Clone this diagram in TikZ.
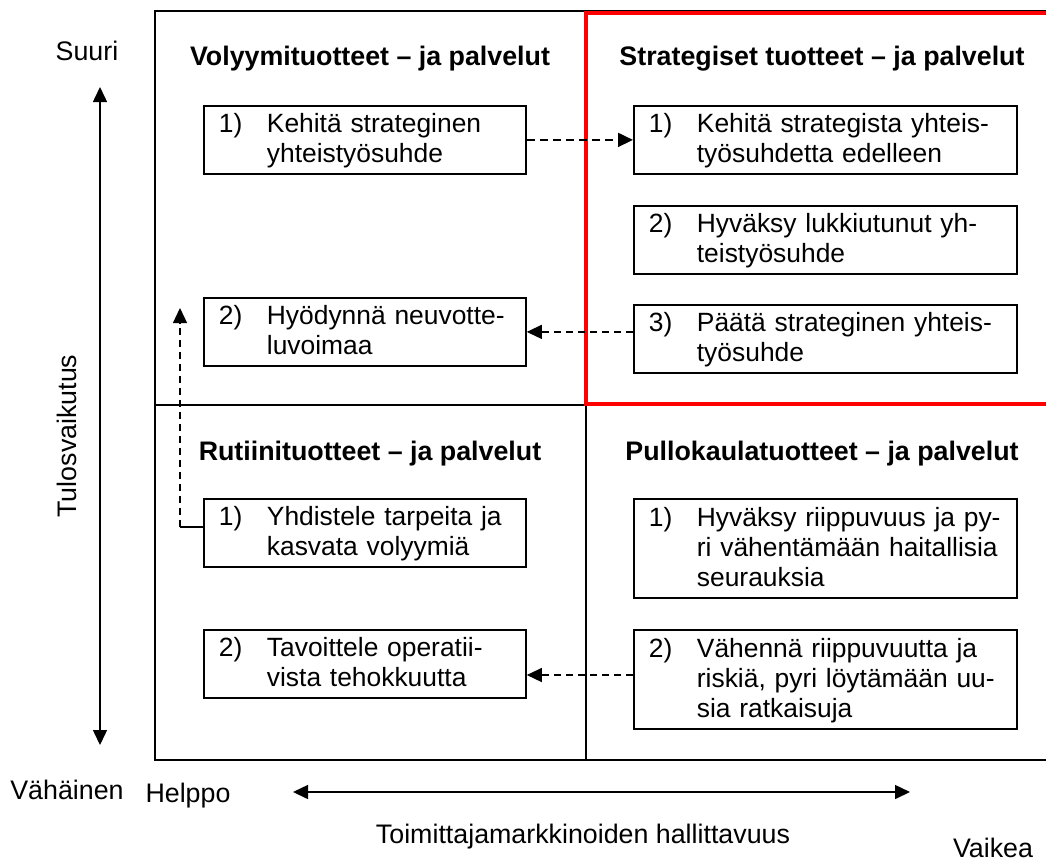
\documentclass[tikz,border=0pt]{standalone}
\usepackage{fontspec}
\setmainfont{Liberation Sans}
\usetikzlibrary{arrows.meta}
\newcommand{\itm}[2]{\raisebox{-2pt}[\height][\depth]{\begin{tabular}{@{}p{48pt}@{}l@{}}#1 & #2\end{tabular}}}
\tikzset{
  boxl/.style={draw, line width=1.8pt, anchor=north west, inner xsep=15pt, inner ysep=0pt,
    text width=292pt, align=left, minimum height=68pt},
  boxr/.style={boxl, text width=353pt},
  title/.style={font=\fontsize{26.8}{30}\selectfont\bfseries, anchor=base},
  lbl/.style={anchor=base, font=\fontsize{26.8}{30}\selectfont},
  axis/.style={line width=1.5pt, {Triangle[length=15pt,width=14pt]}-{Triangle[length=15pt,width=14pt]}},
  dthick/.style={line width=1.8pt, dash pattern=on 8pt off 5pt, -{Triangle[length=15pt,width=14pt]}},
  dthin/.style={line width=1.3pt, dash pattern=on 7pt off 5pt, -{Triangle[length=15pt,width=14pt]}},
}
\begin{document}
\begin{tikzpicture}[x=1pt, y=-1pt, font=\fontsize{26.4}{30}\selectfont]
\useasboundingbox (0,0) rectangle (1046,863);
\clip (0,0) rectangle (1046,863);
% frame
\draw[line width=2pt] (155,11) rectangle (1057,760);
\draw[line width=2pt] (155,405) -- (586,405);
\draw[line width=2pt] (586,405) -- (586,760);
\draw[red, line width=3.6pt] (586,13) rectangle (1057,404);
% titles
\node[title] (tv) at (370,65) {Volyymituotteet – ja palvelut};
\node[title] (ts) at (822,65) {Strategiset tuotteet – ja palvelut};
\node[title] (tr) at (370,460) {Rutiinituotteet – ja palvelut};
\node[title] (tp) at (822,460) {Pullokaulatuotteet – ja palvelut};
% boxes
\node[boxl] (v1) at (203,105) {\itm{1)}{Kehitä strateginen\\ & yhteistyösuhde}};
\node[boxl] (v2) at (203,297) {\itm{2)}{Hyödynnä neuvotte-\\ & luvoimaa}};
\node[boxr] (s1) at (633,105) {\itm{1)}{Kehitä strategista yhteis-\\ & työsuhdetta edelleen}};
\node[boxr] (s2) at (633,205) {\itm{2)}{Hyväksy lukkiutunut yh-\\ & teistyösuhde}};
\node[boxr] (s3) at (633,304) {\itm{3)}{Päätä strateginen yhteis-\\ & työsuhde}};
\node[boxl] (r1) at (203,498) {\itm{1)}{Yhdistele tarpeita ja\\ & kasvata volyymiä}};
\node[boxl] (r2) at (203,629) {\itm{2)}{Tavoittele operatii-\\ & vista tehokkuutta}};
\node[boxr, minimum height=99pt] (p1) at (633,498) {\itm{1)}{Hyväksy riippuvuus ja py-\\ & ri vähentämään haitallisia\\ & seurauksia}};
\node[boxr, minimum height=99pt] (p2) at (633,629) {\itm{2)}{Vähennä riippuvuutta ja\\ & riskiä, pyri löytämään uu-\\ & sia ratkaisuja}};
% dashed connectors
\draw[dthick] (v1.east) -- (s1.west |- v1.east);
\draw[dthin] (s3.west |- v2.east) -- (v2.east);
\draw[dthin] (p2.west |- 0,675) -- (r2.east |- 0,675);
\coordinate (rcorner) at (180,527);
\coordinate (uptip) at (180,308);
\draw[line width=1.3pt] (r1.west |- rcorner) -- (rcorner);
\draw[dthin] (rcorner) -- (uptip);
% axes
\coordinate (vtop) at (100,87);
\coordinate (vbot) at (100,745);
\draw[axis] (vtop) -- (vbot);
\coordinate (hl) at (293,792);
\coordinate (hr) at (910,792);
\draw[axis] (hl) -- (hr);
% axis labels
\node[lbl] (suuri) at (87,60) {Suuri};
\node[lbl] (vah) at (67,799) {Vähäinen};
\node[lbl] (helppo) at (188,802) {Helppo};
\node[lbl] (vaikea) at (993,857) {Vaikea};
\node[lbl] (toim) at (583,843) {Toimittajamarkkinoiden hallittavuus};
\node[lbl, rotate=90] (tulos) at (76,436) {Tulosvaikutus};
\end{tikzpicture}
\end{document}
